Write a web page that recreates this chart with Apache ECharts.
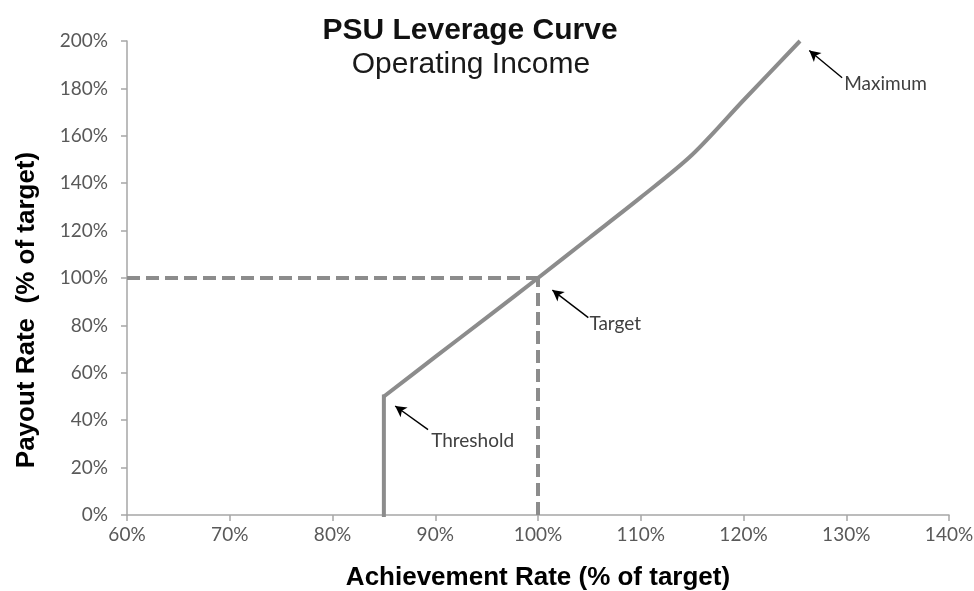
<!DOCTYPE html>
<html>
<head>
<meta charset="utf-8">
<script src="https://cdn.jsdelivr.net/npm/echarts@6/dist/echarts.min.js"></script>
<style>
  html, body { margin: 0; padding: 0; background: #fff; }
  #chart { width: 974px; height: 591px; }
</style>
</head>
<body>
<div id="chart"></div>
<script>
// ---- Data ----
var chartTitle = 'PSU Leverage Curve';
var chartSubtitle = 'Operating Income';
var xAxisName = 'Achievement Rate (% of target)';
var yAxisName = 'Payout Rate  (% of target)';

// Leverage curve: achievement (%) -> payout (%)
var achievement = [85, 85, 90, 95, 100, 105, 110, 115, 120, 125.5];
var payout      = [0, 50, 66.7, 83.3, 100, 117, 134, 152, 175, 200];

// Target reference (dashed)
var targetAchievement = 100;
var targetPayout = 100;

// Axis ranges / ticks
var xMin = 60, xMax = 140, xStep = 10;
var yMin = 0, yMax = 200, yStep = 20;

// Annotations: label, arrow tail [x,y], arrow head [x,y], text anchor [x,y]
var annotLabels = ['Maximum', 'Target', 'Threshold'];
var annotTail = [[129.6, 184.5], [104.9, 83.3], [89.3, 36.0]];
var annotHead = [[126.4, 196.0], [101.4, 94.9], [86.1, 46.0]];
var annotText = [[129.8, 181.7], [105.0, 80.8], [89.6, 31.3]];

// ---- Build ----
var allPoints = achievement.map(function (x, i) { return [x, payout[i]]; });
var stepData = allPoints.slice(0, 2);      // vertical threshold jump
var curveData = allPoints.slice(1);        // rising payout curve
var hDash = [[xMin, targetPayout], [targetAchievement, targetPayout]];
var vDash = [[targetAchievement, yMin], [targetAchievement, targetPayout]];

var gray = '#8c8c8c';
var axisGray = '#a6a6a6';

var arrowLines = annotLabels.map(function (l, i) {
  return [{ coord: annotTail[i] }, { coord: annotHead[i] }];
});
var textPoints = annotLabels.map(function (l, i) {
  return { name: l, coord: annotText[i] };
});

var chart = echarts.init(document.getElementById('chart'), null, { renderer: 'canvas' });
var option = {
  animation: false,
  backgroundColor: '#ffffff',
  title: [
    {
      text: chartTitle,
      left: 465, top: 11, textAlign: 'center',
      textStyle: { fontFamily: 'Liberation Sans', fontWeight: 'bold', fontSize: 30, color: '#111111' }
    },
    {
      text: chartSubtitle,
      left: 466, top: 45, textAlign: 'center',
      textStyle: { fontFamily: 'Liberation Sans', fontWeight: 'normal', fontSize: 30, color: '#1a1a1a' }
    }
  ],
  grid: { left: 127, right: 25, top: 41, bottom: 76, containLabel: false, outerBoundsMode: 'none' },
  xAxis: {
    type: 'value', min: xMin, max: xMax, interval: xStep,
    name: xAxisName, nameLocation: 'middle', nameGap: 50,
    nameTextStyle: { fontFamily: 'Liberation Sans', fontWeight: 'bold', fontSize: 26, color: '#000' },
    axisLine: { show: true, lineStyle: { color: axisGray, width: 1.5 } },
    axisTick: { show: true, inside: false, length: 6, lineStyle: { color: axisGray, width: 1.5 } },
    splitLine: { show: false },
    axisLabel: { formatter: '{value}%', margin: 10, fontFamily: 'Lato', fontSize: 19, color: '#595959' }
  },
  yAxis: {
    type: 'value', min: yMin, max: yMax, interval: yStep,
    name: yAxisName, nameLocation: 'middle', nameGap: 87,
    nameTextStyle: { fontFamily: 'Liberation Sans', fontWeight: 'bold', fontSize: 26, color: '#000', padding: [0, 64, 0, 0] },
    axisLine: { show: true, lineStyle: { color: axisGray, width: 1.5 } },
    axisTick: { show: true, inside: false, length: 6, lineStyle: { color: axisGray, width: 1.5 } },
    splitLine: { show: false },
    axisLabel: { formatter: '{value}%', margin: 19, fontFamily: 'Lato', fontSize: 19, color: '#595959' }
  },
  series: [
    {
      name: 'hTarget', type: 'line', data: hDash, symbol: 'none', silent: true,
      lineStyle: { color: gray, width: 4, type: [13, 6] }
    },
    {
      name: 'vTarget', type: 'line', data: vDash, symbol: 'none', silent: true,
      lineStyle: { color: gray, width: 4, type: [13, 6] }
    },
    {
      name: 'Threshold step', type: 'line', data: stepData, symbol: 'none', silent: true,
      lineStyle: { color: gray, width: 4, cap: 'square' },
      z: 3
    },
    {
      name: 'Leverage', type: 'line', data: curveData, symbol: 'none', silent: true,
      smooth: 0.3,
      lineStyle: { color: gray, width: 4, join: 'miter', cap: 'butt' },
      z: 3,
      markLine: {
        silent: true,
        symbol: ['none', 'arrow'],
        symbolSize: [9, 11],
        lineStyle: { color: '#000', width: 1.4, type: 'solid' },
        label: { show: false },
        data: arrowLines
      },
      markPoint: {
        silent: true,
        symbol: 'circle', symbolSize: 0,
        label: {
          show: true, position: 'right', distance: 0,
          formatter: function (p) { return p.name; },
          fontFamily: 'Lato', fontSize: 19, color: '#404040'
        },
        data: textPoints
      }
    }
  ]
};
chart.setOption(option);
</script>
</body>
</html>
